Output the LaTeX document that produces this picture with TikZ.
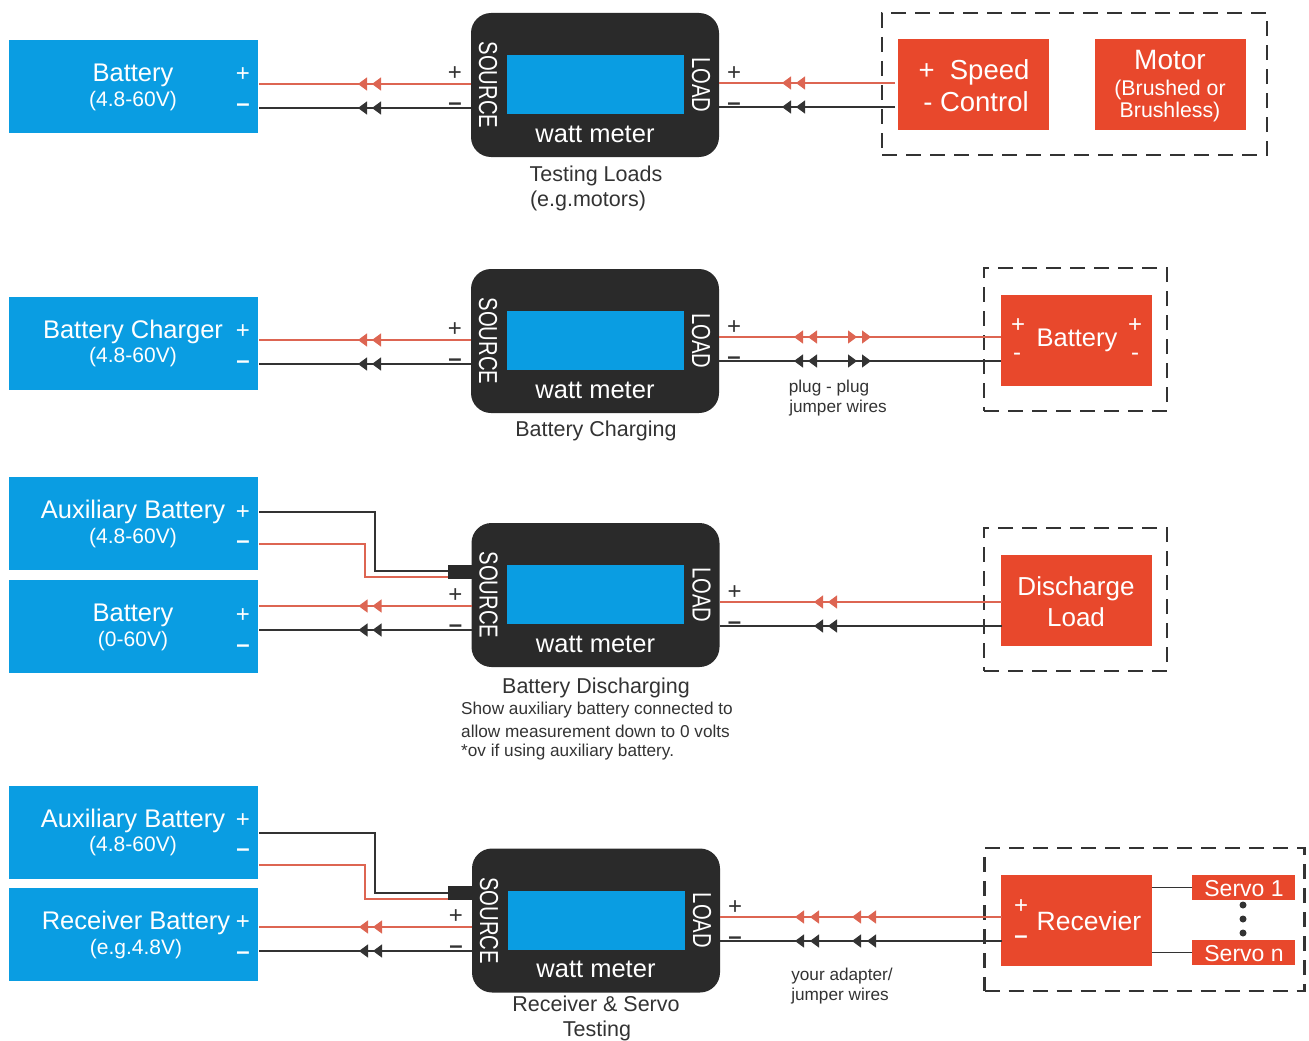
\documentclass[tikz,border=0pt]{standalone}
\usepackage{fontspec}
\usepackage{xcolor}
\setmainfont{Liberation Sans}
\newfontfamily\narrowfont[FakeStretch=0.78]{Liberation Sans}
\usetikzlibrary{arrows.meta,decorations.markings}
\definecolor{panelblue}{HTML}{0A9DE2}
\definecolor{panelred}{HTML}{E8482C}
\definecolor{wirered}{HTML}{DD6552}
\definecolor{inkgrey}{HTML}{333333}
\definecolor{metergrey}{HTML}{2A2A2A}
\newcommand{\fs}[1]{\fontsize{#1}{#1}\selectfont}
\tikzset{
	bluebox/.style={fill=panelblue,inner sep=0pt,outer sep=0pt,minimum width=249pt,minimum height=93pt},
	redbox/.style={fill=panelred,inner sep=0pt,outer sep=0pt,minimum width=151pt,minimum height=91pt},
	servobox/.style={fill=panelred,inner sep=0pt,outer sep=0pt,minimum width=103pt,minimum height=25pt},
	dashbox/.style={draw=inkgrey,line width=2.6pt,dash pattern=on 15pt off 9pt,inner sep=0pt,outer sep=0pt},
	meterbox/.style={fill=metergrey,rounded corners=20pt,inner sep=0pt,outer sep=0pt,minimum width=248pt,minimum height=144pt},
	lcd/.style={fill=panelblue,inner sep=0pt,outer sep=0pt,minimum width=177pt,minimum height=59pt},
	stubbox/.style={fill=metergrey,inner sep=0pt,outer sep=0pt,minimum width=24pt,minimum height=14pt},
	onpanel/.style={text=white,inner sep=0pt,yshift=-2pt,font=\fs{25.5}},
	subpanel/.style={text=white,inner sep=0pt,yshift=-2pt,font=\fs{21}},
	sign/.style={text=white,inner sep=0pt,yshift=-2pt,font=\fs{24}},
	pole/.style={text=inkgrey,inner sep=0pt,yshift=-2pt,font=\fs{24}},
	dip/.style={yshift=-2pt,font=\fs{24}\bfseries},
	caption/.style={text=inkgrey,inner sep=0pt,yshift=-2pt,font=\fs{21.5}},
	note/.style={text=inkgrey,inner sep=0pt,yshift=-2pt,font=\fs{17.2}},
	sidetext/.style={text=white,inner sep=0pt,rotate=-90,font=\fs{26}\narrowfont},
	redwire/.style={draw=wirered,line width=1.3pt},
	blackwire/.style={draw=inkgrey,line width=1.3pt},
	tipat/.style={postaction={decorate,decoration={markings,mark=at position #1pt with {\arrow{Triangle[length=9pt,width=13pt]}}}}},
	tipback/.style={postaction={decorate,decoration={markings,mark=at position #1pt with {\arrowreversed{Triangle[length=9pt,width=13pt]}}}}},
}
\begin{document}
\begin{tikzpicture}[x=1pt,y=-1pt]
		\useasboundingbox (0,0) rectangle (1309,1041);
		% the four meters
		\foreach \n/\x/\y/\sp/\lp in {1/595/85/72/72, 2/595/341/328/326, 3/595.5/595/594/591, 4/596/920.5/915/906} {
			\node[meterbox] (M\n) at (\x,\y) {};
			\node[lcd] (D\n) at (\x,\y-.5) {};
			\node[sidetext] (S\n) at (\x-107,\y) {SOURCE};
			\node[sidetext] (L\n) at (\x+106,\y) {LOAD};
			\node[onpanel] (W\n) at (\x,\y+47) {watt meter};
			\node[pole] (SP\n) at (\x-140,\sp) {+};
			\node[pole,dip] (SM\n) at (\x-140,\sp+31) {–};
			\node[pole] (LP\n) at (\x+139,\lp) {+};
			\node[pole,dip] (LM\n) at (\x+139,\lp+31) {–};
			\coordinate (SR\n) at (\x-124,\sp+12);
			\coordinate (SB\n) at (\x-124,\sp+36);
			\coordinate (LR\n) at (\x+124,\lp+11);
			\coordinate (LB\n) at (\x+124,\lp+35);
		}
		%
		% row 1
		\node[bluebox] (B1) at (133,86.5) {};
		\node[onpanel] (B1a) at (133,73) {Battery};
		\node[subpanel] (B1b) at (133,99) {(4.8-60V)};
		\node[sign] (B1p) at (243,73) {+};
		\node[sign,dip] (B1m) at (243,104) {–};
		\node[dashbox,minimum width=385pt,minimum height=142pt] (G1) at (1074.5,84) {};
		\node[redbox] (C1) at (973,84.5) {};
		\node[onpanel,font=\fs{27.5}] (C1a) at (974,70) {+\ \ Speed};
		\node[onpanel,font=\fs{27.5}] (C1b) at (976,100) {-\ Control};
		\node[redbox] (C2) at (1170,84.5) {};
		\node[onpanel,font=\fs{28}] (C2a) at (1170,58) {Motor};
		\node[subpanel,font=\fs{21.3}] (C2b) at (1170,88) {(Brushed or};
		\node[subpanel,font=\fs{21.3}] (C2c) at (1170,110) {Brushless)};
		\node[caption] (T1a) at (596,174) {Testing Loads};
		\node[caption] (T1b) at (588,199) {(e.g.motors)};
		\coordinate (BR1) at (259,84);
		\coordinate (BK1) at (259,108);
		\coordinate (CR1) at (895,83);
		\coordinate (CK1) at (895,107);
		\draw[redwire,tipat=113,tipat=99] (SR1) -- (BR1);
		\draw[blackwire,tipat=113,tipat=99] (SB1) -- (BK1);
		\draw[redwire,tipat=113,tipat=99] (CR1) -- (LR1);
		\draw[blackwire,tipat=113,tipat=99] (CK1) -- (LB1);
		%
		% row 2
		\node[bluebox] (B2) at (133,343.5) {};
		\node[onpanel] (B2a) at (133,330) {Battery Charger};
		\node[subpanel] (B2b) at (133,355) {(4.8-60V)};
		\node[sign] (B2p) at (243,330) {+};
		\node[sign,dip] (B2m) at (243,361) {–};
		\node[dashbox,minimum width=183pt,minimum height=143pt] (G2) at (1075.5,339.5) {};
		\node[redbox] (C3) at (1076,340.5) {};
		\node[onpanel] (C3a) at (1077,338) {Battery};
		\node[sign] (C3p) at (1018,324) {+};
		\node[sign] (C3m) at (1017,355) {-};
		\node[sign] (C3q) at (1135,324) {+};
		\node[sign] (C3n) at (1135,355) {-};
		\node[caption] (T2) at (596,429) {Battery Charging};
		\node[note] (N2a) at (829,386) {plug - plug};
		\node[note] (N2b) at (838,406) {jumper wires};
		\coordinate (BR2) at (259,340);
		\coordinate (BK2) at (259,364);
		\coordinate (CR2) at (1001,337);
		\coordinate (CK2) at (1001,361);
		\draw[redwire,tipat=113,tipat=99] (SR2) -- (BR2);
		\draw[blackwire,tipat=113,tipat=99] (SB2) -- (BK2);
		\draw[redwire,tipat=207,tipat=193,tipback=144,tipback=130] (CR2) -- (LR2);
		\draw[blackwire,tipat=207,tipat=193,tipback=144,tipback=130] (CK2) -- (LB2);
		%
		% row 3
		\node[bluebox] (A3) at (133.5,523.5) {};
		\node[onpanel] (A3a) at (133,510) {Auxiliary Battery};
		\node[subpanel] (A3b) at (133,536) {(4.8-60V)};
		\node[sign] (A3p) at (243,511) {+};
		\node[sign,dip] (A3m) at (243,541) {–};
		\node[bluebox] (B3) at (133.5,626.5) {};
		\node[onpanel] (B3a) at (133,613) {Battery};
		\node[subpanel] (B3b) at (133,639) {(0-60V)};
		\node[sign] (B3p) at (243,614) {+};
		\node[sign,dip] (B3m) at (243,645) {–};
		\node[stubbox] (P3) at (459.5,572) {};
		\node[dashbox,minimum width=183pt,minimum height=143pt] (G3) at (1075.5,599.5) {};
		\node[redbox] (C4) at (1076,600.5) {};
		\node[onpanel,font=\fs{26}] (C4a) at (1076,587) {Discharge};
		\node[onpanel,font=\fs{26}] (C4b) at (1076,615) {Load};
		\node[caption] (T3) at (596,686) {Battery Discharging};
		\node[note,anchor=west] (N3a) at (461,708) {Show auxiliary battery connected to};
		\node[note,anchor=west] (N3b) at (461,729) {allow measurement down to 0 volts};
		\node[note,anchor=west] (N3c) at (461,750) {*ov if using auxiliary battery.};
		\coordinate (AK3) at (259,512);
		\coordinate (EK3) at (375,571);
		\coordinate (AR3) at (259,544);
		\coordinate (ER3) at (365,577);
		\coordinate (BR3) at (259,606);
		\coordinate (BK3) at (259,630);
		\coordinate (CR3) at (1002,602);
		\coordinate (CK3) at (1002,626);
		\draw[blackwire] (AK3) -| (EK3) -- (P3.west |- EK3);
		\draw[redwire] (AR3) -| (ER3) -- (P3.west |- ER3);
		\draw[redwire,tipat=113,tipat=99] (SR3) -- (BR3);
		\draw[blackwire,tipat=113,tipat=99] (SB3) -- (BK3);
		\draw[redwire,tipat=188,tipat=174] (CR3) -- (LR3);
		\draw[blackwire,tipat=188,tipat=174] (CK3) -- (LB3);
		%
		% row 4
		\node[bluebox] (A4) at (133.5,832) {};
		\node[onpanel] (A4a) at (133,819) {Auxiliary Battery};
		\node[subpanel] (A4b) at (133,844) {(4.8-60V)};
		\node[sign] (A4p) at (243,819) {+};
		\node[sign,dip] (A4m) at (243,849) {–};
		\node[bluebox] (B4) at (133.5,934.5) {};
		\node[onpanel] (B4a) at (136,921) {Receiver Battery};
		\node[subpanel] (B4b) at (136,947) {(e.g.4.8V)};
		\node[sign] (B4p) at (243,921) {+};
		\node[sign,dip] (B4m) at (243,952) {–};
		\node[stubbox] (P4) at (460,893) {};
		\node[dashbox,minimum width=320pt,minimum height=143pt] (G4) at (1144.5,919.5) {};
		\node[redbox] (C5) at (1076.5,920.5) {};
		\node[onpanel,font=\fs{26.5}] (C5a) at (1089,919) {Recevier};
		\node[sign] (C5p) at (1021,905) {+};
		\node[sign,dip] (C5m) at (1021,936) {–};
		\node[servobox] (R1) at (1243.5,887.5) {};
		\node[onpanel,font=\fs{23}] (R1a) at (1244,887) {Servo 1};
		\node[servobox] (Rn) at (1243.5,952.5) {};
		\node[onpanel,font=\fs{23}] (Rna) at (1244,952) {Servo n};
		\node[circle,fill=inkgrey,inner sep=0pt,minimum size=7pt] (V1) at (1243,905) {};
		\node[circle,fill=inkgrey,inner sep=0pt,minimum size=7pt] (V2) at (1243,919) {};
		\node[circle,fill=inkgrey,inner sep=0pt,minimum size=7pt] (V3) at (1243,933) {};
		\node[caption] (T4a) at (596,1002) {Receiver \& Servo};
		\node[caption] (T4b) at (597,1029) {Testing};
		\node[note] (N4a) at (842,974) {your adapter/};
		\node[note] (N4b) at (840,994) {jumper wires};
		\coordinate (AK4) at (259,833);
		\coordinate (EK4) at (375,893);
		\coordinate (AR4) at (259,865);
		\coordinate (ER4) at (365,899);
		\coordinate (BR4) at (259,927);
		\coordinate (BK4) at (259,951);
		\coordinate (CR4) at (1002,917);
		\coordinate (CK4) at (1002,941);
		\draw[blackwire] (AK4) -| (EK4) -- (P4.west |- EK4);
		\draw[redwire] (AR4) -| (ER4) -- (P4.west |- ER4);
		\draw[redwire,tipat=113,tipat=99] (SR4) -- (BR4);
		\draw[blackwire,tipat=113,tipat=99] (SB4) -- (BK4);
		\draw[redwire,tipat=207,tipat=192,tipat=150,tipat=135] (CR4) -- (LR4);
		\draw[blackwire,tipat=207,tipat=192,tipat=150,tipat=135] (CK4) -- (LB4);
		\draw[blackwire] (R1.west) -- (C5.east |- R1.west);
		\draw[blackwire] (Rn.west) -- (C5.east |- Rn.west);
\end{tikzpicture}
\end{document}
